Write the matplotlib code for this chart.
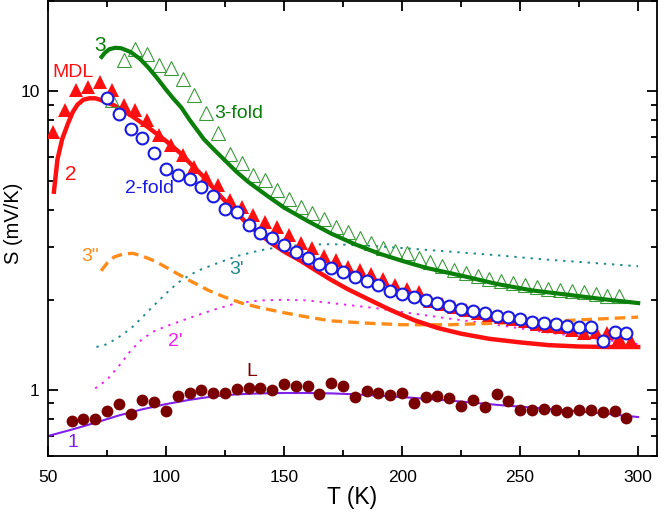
import matplotlib
matplotlib.use("Agg")
import matplotlib.pyplot as plt
from matplotlib.ticker import MultipleLocator, LogLocator, FuncFormatter, NullFormatter

plt.rcParams["font.family"] = ["Liberation Sans", "DejaVu Sans"]

# Measured points
# L (filled dark red circles)
t_L = [60, 65, 70, 75, 80, 85, 90, 95, 100, 105, 110, 115, 120, 125, 130, 135, 140, 145,
       150, 155, 160, 165, 170, 175, 180, 185, 190, 195, 200, 205, 210, 215, 220, 225,
       230, 235, 240, 245, 250, 255, 260, 265, 270, 275, 280, 285, 290, 295]
s_L = [0.788, 0.796, 0.796, 0.851, 0.894, 0.829, 0.924, 0.912, 0.849, 0.953, 0.977, 1.0,
       0.973, 0.977, 1.005, 1.012, 1.017, 0.995, 1.045, 1.026, 1.026, 0.965, 1.055, 1.029,
       0.948, 0.992, 0.977, 0.960, 0.977, 0.905, 0.943, 0.953, 0.940, 0.884, 0.924, 0.877,
       0.968, 0.917, 0.855, 0.858, 0.860, 0.855, 0.844, 0.858, 0.858, 0.840, 0.849, 0.806]

# MDL (filled red triangles)
t_mdl = [52, 57, 62, 67, 72, 77, 82, 87, 92, 97, 102, 107, 112, 117, 122, 127, 132, 137,
         142, 147, 152, 157, 162, 167, 172, 177, 182, 187, 192, 197, 202, 207, 212, 217,
         222, 227, 232, 237, 242, 247, 252, 257, 262, 267, 272, 277, 282, 287, 292, 297]
s_mdl = [7.3, 8.62, 10.05, 10.3, 10.7, 10.05, 8.96, 8.62, 7.98, 7.11, 6.58, 6.09, 5.57,
         5.16, 4.85, 4.31, 4.09, 3.84, 3.65, 3.51, 3.29, 3.09, 2.99, 2.80, 2.72, 2.58,
         2.51, 2.44, 2.34, 2.24, 2.17, 2.13, 1.98, 1.93, 1.89, 1.85, 1.81, 1.78, 1.75,
         1.73, 1.70, 1.66, 1.64, 1.62, 1.58, 1.55, 1.56, 1.55, 1.49, 1.45]

# 2-fold (open blue circles)
t_2f = [75, 80, 85, 90, 95, 100, 105, 110, 115, 120, 125, 130, 135, 140, 145, 150, 155,
        160, 165, 170, 175, 180, 185, 190, 195, 200, 205, 210, 215, 220, 225, 230, 235,
        240, 245, 250, 255, 260, 265, 270, 275, 280, 285, 290, 295]
s_2f = [9.5, 8.40, 7.45, 6.97, 6.18, 5.46, 5.23, 5.07, 4.78, 4.44, 4.04, 3.94, 3.56, 3.34,
        3.23, 3.05, 2.90, 2.77, 2.63, 2.55, 2.48, 2.39, 2.32, 2.24, 2.14, 2.09, 2.04, 1.99,
        1.95, 1.91, 1.86, 1.84, 1.80, 1.76, 1.75, 1.72, 1.68, 1.67, 1.66, 1.63, 1.62, 1.62,
        1.45, 1.56, 1.55]

# 3-fold (open green triangles)
t_3f = [77, 82, 87, 92, 97, 102, 107, 112, 117, 122, 127, 132, 137, 142, 147, 152, 157,
        162, 167, 172, 177, 182, 187, 192, 197, 202, 207, 212, 217, 222, 227, 232, 237,
        242, 247, 252, 257, 262, 267, 272, 277, 282, 287, 292]
s_3f = [9.3, 12.7, 13.8, 13.3, 12.25, 11.9, 11.0, 9.68, 8.44, 7.22, 6.16, 5.72, 5.25, 5.02,
        4.67, 4.35, 4.1, 3.91, 3.73, 3.51, 3.38, 3.23, 3.10, 2.99, 2.92, 2.86, 2.77, 2.68,
        2.60, 2.51, 2.45, 2.40, 2.35, 2.32, 2.28, 2.24, 2.20, 2.18, 2.15, 2.14, 2.12, 2.09,
        2.06, 2.06]

# Model curves
t_c1 = [50, 60, 70, 80, 90, 100, 110, 120, 130, 140, 150, 160, 170, 180, 190, 200, 220,
        240, 260, 280, 300]
s_c1 = [0.70, 0.735, 0.775, 0.82, 0.86, 0.895, 0.925, 0.95, 0.965, 0.972, 0.975, 0.975,
        0.972, 0.965, 0.955, 0.945, 0.92, 0.89, 0.865, 0.84, 0.81]

t_c2 = [52.5, 54, 56, 58.5, 60.5, 62.5, 65, 67.5, 70, 72, 75, 78, 85, 92, 100, 106, 110,
        116, 123, 128, 134, 140, 145, 150, 157, 163, 170, 177, 185, 195, 205, 215, 225,
        237, 250, 262, 275, 287, 300]
s_c2 = [4.6, 5.9, 6.9, 7.8, 8.5, 9.0, 9.35, 9.45, 9.45, 9.35, 9.15, 8.95, 8.3, 7.6, 6.8,
        6.2, 5.75, 5.15, 4.45, 4.05, 3.62, 3.3, 3.08, 2.9, 2.7, 2.52, 2.33, 2.17, 2.02,
        1.85, 1.71, 1.61, 1.54, 1.48, 1.44, 1.41, 1.395, 1.39, 1.39]

t_c3 = [72.7, 74, 76, 78.5, 81, 85, 89, 92.4, 96, 100, 103, 106.5, 110, 116, 120, 125, 130,
        135, 143, 150, 160, 170, 180, 190, 200, 210, 227, 240, 255, 270, 285, 300]
s_c3 = [13.0, 13.4, 13.8, 13.95, 13.9, 13.5, 12.8, 12.0, 11.1, 10.1, 9.45, 8.8, 8.0, 6.9,
        6.4, 5.85, 5.35, 4.95, 4.45, 4.07, 3.67, 3.33, 3.07, 2.86, 2.7, 2.56, 2.39, 2.26,
        2.15, 2.08, 2.01, 1.95]

t_c3p = [70.5, 75, 80, 85, 90, 95, 100, 105, 110, 115, 120, 130, 140, 150, 160, 170, 180,
         190, 200, 220, 240, 260, 280, 300]
s_c3p = [1.39, 1.42, 1.50, 1.60, 1.75, 1.92, 2.1, 2.28, 2.42, 2.53, 2.62, 2.8, 2.93, 3.02,
         3.06, 3.07, 3.05, 3.02, 2.98, 2.9, 2.82, 2.73, 2.66, 2.59]

t_c2p = [70, 75, 80, 85, 90, 95, 100, 110, 120, 130, 140, 150, 160, 170, 180, 190, 200,
         220, 240, 260, 280, 300]
s_c2p = [1.01, 1.08, 1.20, 1.35, 1.48, 1.57, 1.63, 1.74, 1.85, 1.95, 1.99, 2.0, 1.99, 1.95,
         1.91, 1.87, 1.82, 1.73, 1.65, 1.56, 1.49, 1.42]

t_c3pp = [72.5, 75, 78, 82, 86, 90, 95, 100, 105, 110, 118, 125, 132, 140, 150, 160, 170,
          185, 200, 220, 240, 260, 280, 300]
s_c3pp = [2.50, 2.65, 2.78, 2.85, 2.86, 2.80, 2.70, 2.57, 2.44, 2.32, 2.15, 2.04, 1.95,
          1.88, 1.81, 1.75, 1.70, 1.67, 1.65, 1.65, 1.67, 1.69, 1.72, 1.75]

red = "#ff1010"
green = "#0a7f0a"
blue = "#1a1ae0"
orange = "#ff8c1a"
teal = "#1f8a8a"
magenta = "#ee22ee"
darkred = "#7a0000"
purple = "#8020e8"

fig = plt.figure(figsize=(6.64, 5.15), dpi=100)
ax = fig.add_axes([0.0723, 0.1146, 0.9172, 0.8834])

# curves
ax.plot(t_c1, s_c1, color=purple, lw=1.5, zorder=2)
ax.plot(t_c2p, s_c2p, color=magenta, lw=1.4, linestyle=(0, (1.2, 3)), zorder=2)
ax.plot(t_c3p, s_c3p, color=teal, lw=1.4, linestyle=(0, (1.2, 3)), zorder=2)
ax.plot(t_c3pp, s_c3pp, color=orange, lw=2.4, linestyle=(0, (3.2, 1.8)), zorder=2)
ax.plot(t_c2, s_c2, color=red, lw=3.2, zorder=2)

# data points
ax.plot(t_L, s_L, "o", color=darkred, markersize=8.5, markeredgewidth=0, zorder=3)
ax.plot(t_3f, s_3f, "^", markerfacecolor="none", markeredgecolor="#3a9a3a",
        markersize=9.5, markeredgewidth=0.8, zorder=3)
ax.plot(t_c3, s_c3, color=green, lw=3.0, zorder=4)
ax.plot(t_mdl, s_mdl, "^", color=red, markersize=9.5, markeredgewidth=0, zorder=4)
ax.plot(t_2f, s_2f, "o", markerfacecolor="white", markeredgecolor=blue,
        markersize=8.5, markeredgewidth=1.5, zorder=5)

# labels
fs = 14
ax.text(60.5, 11.5, "MDL", color=red, fontsize=fs, ha="center", va="center")
ax.text(72.0, 14.2, "3", color=green, fontsize=fs + 1, ha="center", va="center")
ax.text(59.6, 5.26, "2", color=red, fontsize=fs + 1, ha="center", va="center")
ax.text(130.9, 8.42, "3-fold", color=green, fontsize=fs, ha="center", va="center")
ax.text(93.2, 4.73, "2-fold", color=blue, fontsize=fs, ha="center", va="center")
ax.text(67.8, 2.80, '3"', color=orange, fontsize=fs, ha="center", va="center")
ax.text(129.7, 2.53, "3'", color=teal, fontsize=fs, ha="center", va="center")
ax.text(103.8, 1.445, "2'", color=magenta, fontsize=fs, ha="center", va="center")
ax.text(136.4, 1.155, "L", color=darkred, fontsize=fs, ha="center", va="center")
ax.text(60.6, 0.664, "1", color=purple, fontsize=fs, ha="center", va="center")

ax.set_yscale("log")
ax.set_xlim(50, 308)
ax.set_ylim(0.6, 20)

ax.xaxis.set_major_locator(MultipleLocator(50))
ax.xaxis.set_minor_locator(MultipleLocator(25))
ax.yaxis.set_major_locator(LogLocator(base=10))
ax.yaxis.set_minor_locator(LogLocator(base=10, subs=range(2, 10)))
ax.yaxis.set_major_formatter(FuncFormatter(lambda v, p: "%g" % v))
ax.yaxis.set_minor_formatter(NullFormatter())

ax.tick_params(which="both", direction="in", top=True, right=True, width=1.3,
               labelsize=12.5, colors="black")
ax.tick_params(which="major", length=7)
ax.tick_params(which="minor", length=4.5)
ax.tick_params(axis="x", pad=10)
ax.tick_params(axis="y", pad=6)

for sp in ax.spines.values():
    sp.set_linewidth(1.3)

ax.set_xlabel("T (K)", fontsize=16.5, labelpad=1)
ax.set_ylabel("S (mV/K)", fontsize=14.5)
ax.yaxis.set_label_coords(-0.0415, 0.512)

fig.savefig("out.png", dpi=100)
